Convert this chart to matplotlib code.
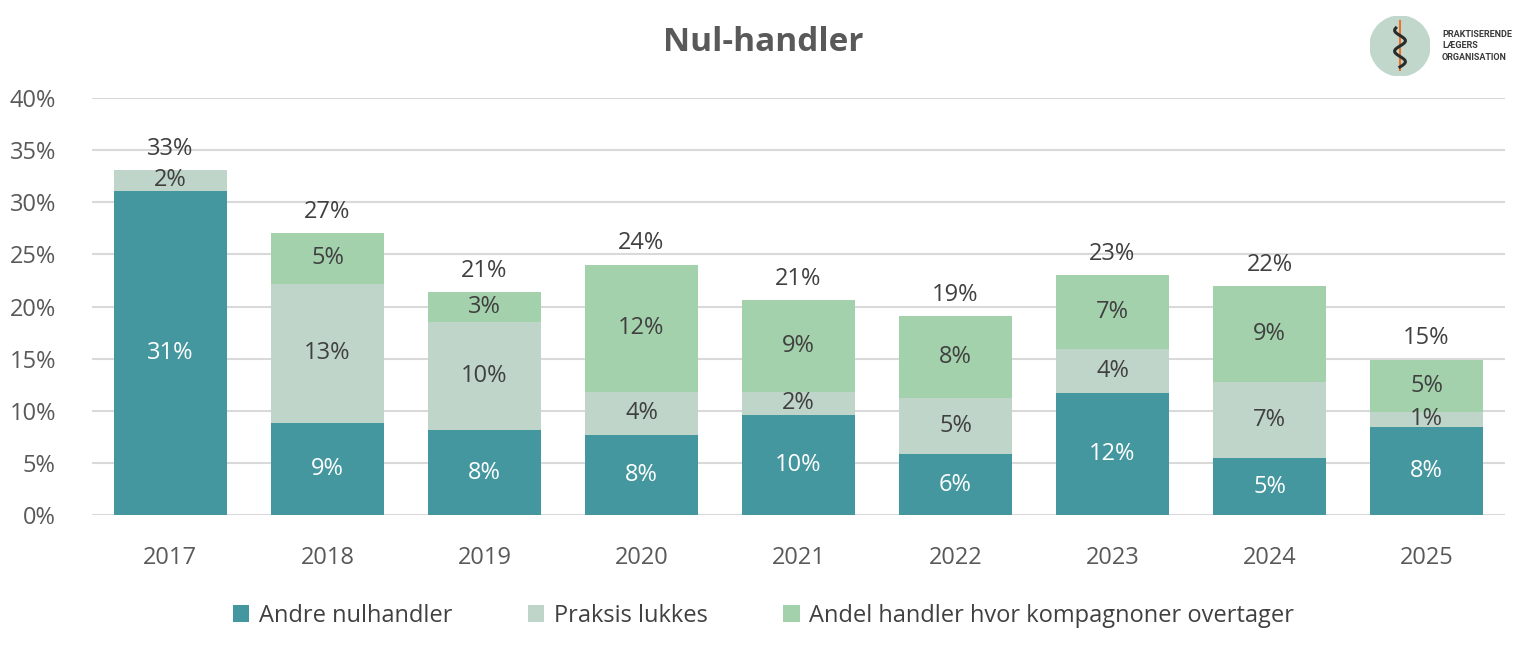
import numpy as np
import matplotlib.pyplot as plt
from matplotlib.patches import Circle

plt.rcParams['font.family'] = ['Open Sans', 'DejaVu Sans']

years = ['2017', '2018', '2019', '2020', '2021', '2022', '2023', '2024', '2025']
andre = [31.1, 8.8, 8.15, 7.7, 9.6, 5.85, 11.7, 5.45, 8.45]
lukkes = [2.0, 13.4, 10.35, 4.1, 2.2, 5.35, 4.2, 7.3, 1.45]
kompagnon = [0.0, 4.85, 2.9, 12.2, 8.8, 7.9, 7.1, 9.2, 5.0]
series_names = ['Andre nulhandler', 'Praksis lukkes', 'Andel handler hvor kompagnoner overtager']
colors = ['#44979E', '#BFD5C9', '#A3D1AC']
label_colors = ['white', '#404040', '#404040']

fig = plt.figure(figsize=(15.27, 6.55), dpi=100)
ax = fig.add_axes([0.0602, 0.2137, 0.9254, 0.6367])

x = np.arange(len(years))
bottom = np.zeros(len(years))
for vals, name, col, lc in zip([andre, lukkes, kompagnon], series_names, colors, label_colors):
    vals = np.array(vals)
    ax.bar(x, vals, 0.715, bottom=bottom, color=col, label=name, zorder=2)
    for xi, b, v in zip(x, bottom, vals):
        if v > 0:
            ax.text(xi, b + v / 2, '%d%%' % round(v), ha='center', va='center',
                    fontsize=17, color=lc, zorder=3)
    bottom = bottom + vals

for xi, t in zip(x, bottom):
    ax.text(xi, t + 0.9, '%d%%' % round(t), ha='center', va='bottom',
            fontsize=17, color='#404040')

ax.set_xlim(-0.5, len(years) - 0.5)
ax.set_ylim(0, 40)
ax.set_yticks(range(0, 41, 5))
ax.set_yticklabels(['%d%%' % v for v in range(0, 41, 5)])
ax.set_xticks(x)
ax.set_xticklabels(years)
ax.tick_params(axis='both', length=0, labelsize=17, labelcolor='#595959')
ax.tick_params(axis='x', pad=22)
ax.tick_params(axis='y', pad=26)
ax.grid(axis='y', color='#D9D9D9', linewidth=1.5, zorder=0)
for s in ax.spines.values():
    s.set_visible(False)

fig.text(0.5, 0.935, 'Nul-handler', ha='center', va='center', fontsize=24,
         fontweight='bold', color='#595959')

fig.legend(loc='center', bbox_to_anchor=(0.5, 0.06), ncol=3, frameon=False,
           fontsize=17, handlelength=0.7, handleheight=0.7, columnspacing=3.2,
           handletextpad=0.4, labelcolor='#404040')

# logo
lax = fig.add_axes([1370 / 1527, 1 - 76 / 655, 60 / 1527, 60 / 655])
lax.set_xlim(-1, 1)
lax.set_ylim(-1, 1)
lax.set_aspect('equal')
lax.axis('off')
lax.add_patch(Circle((0, 0), 1, color='#C2D7CC'))
lax.plot([0, 0], [-0.8, 0.85], color='#E8732A', lw=1.5)
t = np.linspace(-0.7, 0.6, 60)
lax.plot(0.18 * np.sin(t * 9), t, color='#2B2B2B', lw=2.2)
fig.text(1442 / 1527, 1 - 46 / 655, 'PRAKTISERENDE\nLÆGERS\nORGANISATION', ha='left',
         va='center', fontsize=6.5, fontweight='bold', color='#3A3A3A', linespacing=1.35,
         family=['Roboto', 'DejaVu Sans'])

fig.savefig('out.png', dpi=100)
